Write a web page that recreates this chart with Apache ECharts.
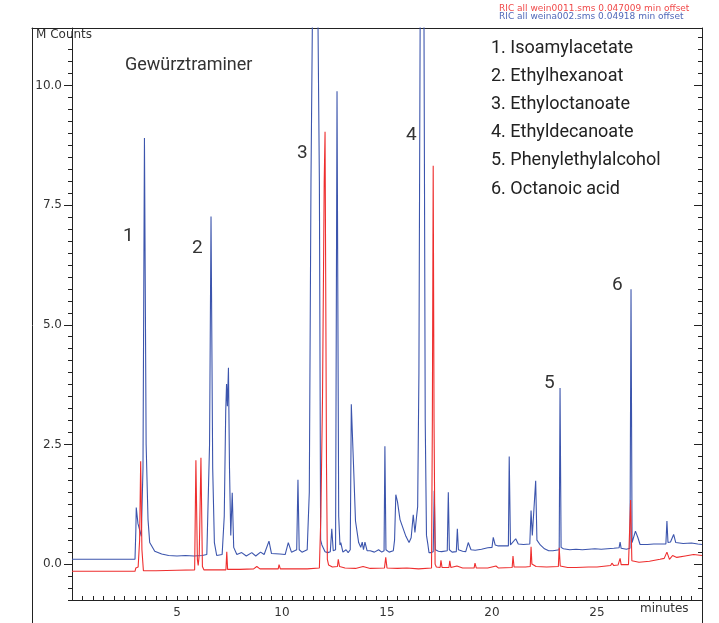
<!DOCTYPE html>
<html>
<head>
<meta charset="utf-8">
<script src="https://cdn.jsdelivr.net/npm/echarts@6/dist/echarts.min.js"></script>
<style>
  html, body { margin: 0; padding: 0; background: #fff; }
  #chart { width: 719px; height: 623px; }
</style>
</head>
<body>
<div id="chart"></div>
<script>
// retention time (minutes), intensity (M Counts)
// blue trace: weina002
var weina002 = [
  [0, 0.10], [3.00, 0.10], [3.04, 0.7], [3.06, 1.18], [3.14, 0.85], [3.30, 0.58], [3.38, 2.0], [3.45, 8.9],
  [3.53, 2.5], [3.62, 0.93], [3.70, 0.45], [3.94, 0.27], [4.27, 0.21], [4.6, 0.18], [5.0, 0.17], [5.4, 0.18],
  [5.8, 0.17], [6.2, 0.18], [6.42, 0.2], [6.55, 2.5], [6.62, 7.26], [6.70, 2.0], [6.78, 0.45], [6.89, 0.18],
  [7.15, 0.2], [7.25, 1.0], [7.32, 3.2], [7.36, 3.76], [7.40, 3.3], [7.45, 4.1], [7.50, 2.0], [7.56, 0.6],
  [7.63, 1.49], [7.70, 0.35], [7.85, 0.2], [8.08, 0.24], [8.3, 0.17], [8.56, 0.24], [8.75, 0.17], [8.98, 0.25],
  [9.15, 0.2], [9.38, 0.48], [9.5, 0.22], [9.9, 0.21], [10.15, 0.2], [10.3, 0.45], [10.45, 0.25], [10.7, 0.3],
  [10.76, 1.76], [10.82, 0.3], [10.95, 0.25], [11.2, 0.3], [11.3, 1.5], [11.38, 8], [11.50, 14], [11.66, 14],
  [11.78, 8], [11.84, 0.5], [11.9, 0.4], [12.05, 0.26], [12.18, 0.24], [12.3, 0.26], [12.37, 0.74], [12.44, 0.28],
  [12.55, 0.3], [12.62, 9.88], [12.70, 1.0], [12.76, 0.4], [12.8, 0.45], [12.9, 0.25], [13.05, 0.3], [13.15, 0.24],
  [13.25, 0.3], [13.30, 3.34], [13.36, 3.3], [13.42, 1.9], [13.50, 0.9], [13.65, 0.45], [13.75, 0.35], [13.82, 0.46],
  [13.88, 0.3], [13.95, 0.46], [14.05, 0.28], [14.2, 0.28], [14.4, 0.25], [14.6, 0.3], [14.75, 0.25], [14.86, 0.28],
  [14.90, 2.46], [14.95, 0.3], [15.1, 0.25], [15.3, 0.28], [15.36, 0.5], [15.42, 1.45], [15.5, 1.3], [15.62, 0.93],
  [15.9, 0.58], [16.05, 0.45], [16.15, 0.55], [16.25, 1.03], [16.33, 0.66], [16.41, 1.0], [16.46, 1.2], [16.52, 4.0],
  [16.58, 11.5], [16.66, 15], [16.76, 11.5], [16.82, 3], [16.88, 0.6], [16.95, 0.4], [17.0, 0.24], [17.1, 0.24],
  [17.2, 0.26], [17.25, 1.53], [17.30, 0.3], [17.45, 0.27], [17.6, 0.26], [17.87, 0.28], [17.92, 1.5], [17.97, 0.3],
  [18.1, 0.25], [18.3, 0.26], [18.35, 0.74], [18.4, 0.3], [18.6, 0.27], [18.75, 0.26], [18.87, 0.45], [19.0, 0.3],
  [19.2, 0.29], [19.5, 0.31], [19.8, 0.34], [20.0, 0.35], [20.06, 0.56], [20.15, 0.4], [20.3, 0.38], [20.6, 0.38],
  [20.78, 0.38], [20.82, 2.25], [20.88, 0.4], [20.95, 0.38], [21.13, 0.53], [21.25, 0.42], [21.5, 0.41], [21.8, 0.42],
  [21.86, 1.12], [21.92, 0.6], [21.98, 0.58], [22.08, 1.74], [22.14, 0.5], [22.3, 0.4], [22.5, 0.32], [22.7, 0.28],
  [22.9, 0.28], [23.2, 0.3], [23.24, 3.68], [23.29, 0.35], [23.4, 0.32], [23.7, 0.3], [24.0, 0.31], [24.3, 0.3],
  [24.6, 0.31], [24.9, 0.32], [25.2, 0.31], [25.5, 0.32], [25.8, 0.33], [26.05, 0.34], [26.1, 0.46], [26.15, 0.33],
  [26.4, 0.31], [26.57, 0.33], [26.62, 5.74], [26.67, 0.45], [26.72, 0.45], [26.83, 0.69], [26.95, 0.55], [27.05, 0.41],
  [27.4, 0.41], [27.7, 0.42], [28.28, 0.42], [28.33, 0.9], [28.38, 0.45], [28.5, 0.46], [28.65, 0.62], [28.75, 0.45],
  [29.1, 0.43], [29.5, 0.44], [29.8, 0.42], [30, 0.41]
];

// red trace: wein0011
var wein0011 = [
  [0, -0.15], [3.00, -0.15], [3.04, -0.08], [3.15, -0.06], [3.22, 0.5], [3.27, 2.15], [3.33, 0.3], [3.40, -0.14],
  [4.0, -0.14], [5.0, -0.13], [5.84, -0.12], [5.90, 2.17], [5.97, 0.1], [6.01, -0.03], [6.06, 0.2], [6.14, 2.22],
  [6.21, -0.05], [6.28, -0.12], [7.0, -0.12], [7.33, -0.12], [7.37, 0.26], [7.41, -0.11], [8.0, -0.11], [8.65, -0.1],
  [8.8, -0.05], [8.95, -0.1], [9.5, -0.1], [9.82, -0.1], [9.86, -0.01], [9.92, -0.1], [10.5, -0.1], [11.2, -0.1],
  [11.78, -0.08], [11.85, 1.0], [11.93, 3.5], [12.01, 8.0], [12.05, 9.03], [12.08, 6.0], [12.12, 2.0], [12.16, 0.1],
  [12.22, -0.02], [12.4, -0.06], [12.64, -0.05], [12.68, 0.1], [12.74, -0.05], [13.0, -0.08], [13.5, -0.09], [13.86, -0.05],
  [14.2, -0.09], [14.88, -0.08], [14.94, 0.14], [15.0, -0.08], [15.5, -0.09], [15.95, -0.08], [16.5, -0.1], [17.12, -0.08],
  [17.16, 3.0], [17.20, 8.32], [17.24, 3.0], [17.29, 0.0], [17.35, -0.06], [17.53, -0.07], [17.57, 0.08], [17.62, -0.07],
  [17.95, -0.07], [17.99, 0.07], [18.04, -0.07], [18.33, -0.04], [18.6, -0.08], [19.15, -0.08], [19.19, 0.02], [19.25, -0.08],
  [19.8, -0.08], [20.19, -0.04], [20.3, -0.08], [20.96, -0.07], [21.0, 0.17], [21.05, -0.06], [21.6, -0.06], [21.82, -0.05],
  [21.86, 0.36], [21.9, 0.0], [21.95, -0.03], [22.1, -0.05], [22.6, -0.06], [23.16, -0.05], [23.2, 0.34], [23.25, -0.04],
  [23.6, -0.07], [24.0, -0.07], [24.6, -0.06], [25.0, -0.06], [25.65, -0.03], [25.71, 0.02], [25.8, -0.03], [26.0, -0.02],
  [26.1, 0.12], [26.15, -0.01], [26.5, -0.01], [26.56, 0.0], [26.6, 1.34], [26.66, 0.07], [27.0, 0.04], [27.5, 0.06],
  [28.0, 0.1], [28.2, 0.12], [28.33, 0.25], [28.45, 0.1], [28.6, 0.18], [28.8, 0.14], [29.2, 0.17], [29.6, 0.2], [30, 0.18]
];

// labelled ticks
var xLabelStep = 5;                        // 5, 10, 15, 20, 25
var yLabelValues = [0, 2.5, 5, 7.5, 10];   // 0.0 ... 10.0
var compounds = [
  "1. Isoamylacetate",
  "2. Ethylhexanoat",
  "3. Ethyloctanoate",
  "4. Ethyldecanoate",
  "5. Phenylethylalcohol",
  "6. Octanoic acid"
];
var peakNumbers = ["1", "2", "3", "4", "5", "6"];

var X_MIN = 0, X_MAX = 30, Y_MIN = -0.75, Y_MAX = 11.2;

var chart = echarts.init(document.getElementById("chart"));

var axisColor = "#222";
var blue = "#3c55ad";
var red = "#ee2e2e";
var txt = "#333";

function onStep(v, step) {
  var r = v / step;
  return Math.abs(r - Math.round(r)) < 1e-6;
}

// text blocks as title components (pixels)
function label(text, left, top, font, size, color) {
  return {
    text: text, left: left, top: top, padding: 0,
    textStyle: { fontFamily: font, fontSize: size, fontWeight: "normal", color: color }
  };
}
var peakPos = [[128, 238], [197, 250], [302, 155], [411, 137], [549, 385], [617, 287]];
var titles = [
  label("M Counts", 36, 29, "DejaVu Sans", 12, txt),
  label("minutes", 640, 603, "DejaVu Sans", 12, txt),
  label("RIC all wein0011.sms 0.047009 min offset", 499, 4, "DejaVu Sans", 9, "#f04a4a"),
  label("RIC all weina002.sms 0.04918 min offset", 499, 12, "DejaVu Sans", 9, "#5068b8"),
  label("Gewürztraminer", 125, 56, "Roboto", 18, txt)
];
compounds.forEach(function (c, i) {
  titles.push(label(c, 491, 39 + i * 28.2, "Roboto", 18, "#222"));
});
peakNumbers.forEach(function (p, i) {
  titles.push(label(p, peakPos[i][0] - 5, peakPos[i][1] - 11, "Roboto", 19, txt));
});

// axes of the outer frame (top edge, left and right edges)
var frameAxis = {
  type: "value", min: 0, max: 1, gridIndex: 1,
  splitLine: { show: false },
  axisTick: { show: false },
  axisLabel: { show: false },
  axisLine: { show: true, onZero: false, lineStyle: { color: axisColor, width: 1 } }
};

var option = {
  animation: false,
  backgroundColor: "#fff",
  title: titles,
  grid: [
    { left: 72, right: 17, top: 28, bottom: 23 },
    { left: 32, right: 17, top: 28, bottom: 0 }
  ],
  xAxis: [
    {
      type: "value",
      min: X_MIN,
      max: X_MAX,
      interval: 0.5,
      splitLine: { show: false },
      axisLine: { show: true, onZero: false, lineStyle: { color: axisColor, width: 1 } },
      axisTick: { show: true, inside: true, length: 4, lineStyle: { color: axisColor, width: 1 } },
      axisLabel: {
        formatter: function (v) { return (v > X_MIN && v < X_MAX && onStep(v, xLabelStep)) ? String(v) : ""; },
        color: txt,
        fontFamily: "DejaVu Sans",
        fontSize: 12,
        margin: 7
      }
    },
    Object.assign({}, frameAxis, { position: "top" })
  ],
  yAxis: [
    {
      // minor ticks every 0.25 and the labels
      type: "value",
      position: "left",
      min: Y_MIN,
      max: Y_MAX,
      interval: 0.25,
      splitLine: { show: false },
      axisLine: { show: true, onZero: false, lineStyle: { color: axisColor, width: 1 } },
      axisTick: { show: true, length: 4, lineStyle: { color: axisColor, width: 1 } },
      axisLabel: {
        formatter: function (v) { return onStep(v, 2.5) ? v.toFixed(1) : ""; },
        color: txt,
        fontFamily: "DejaVu Sans",
        fontSize: 12,
        margin: 10
      }
    },
    {
      // longer ticks at the labelled values
      type: "value",
      position: "left",
      min: Y_MIN,
      max: Y_MAX,
      splitLine: { show: false },
      axisLine: { show: false, onZero: false },
      axisTick: { show: true, customValues: yLabelValues, length: 8, lineStyle: { color: axisColor, width: 1 } },
      axisLabel: { show: false }
    },
    {
      // right edge: minor ticks inside
      type: "value",
      position: "right",
      min: Y_MIN,
      max: Y_MAX,
      interval: 0.25,
      splitLine: { show: false },
      axisLine: { show: false, onZero: false },
      axisTick: { show: true, inside: true, length: 4, lineStyle: { color: axisColor, width: 1 } },
      axisLabel: { show: false }
    },
    {
      // right edge: longer ticks inside
      type: "value",
      position: "right",
      min: Y_MIN,
      max: Y_MAX,
      splitLine: { show: false },
      axisLine: { show: false, onZero: false },
      axisTick: { show: true, inside: true, customValues: yLabelValues, length: 8, lineStyle: { color: axisColor, width: 1 } },
      axisLabel: { show: false }
    },
    Object.assign({}, frameAxis, { position: "left" }),
    Object.assign({}, frameAxis, { position: "right" })
  ],
  series: [
    {
      name: "weina002",
      type: "line",
      data: weina002,
      showSymbol: false,
      clip: true,
      lineStyle: { color: blue, width: 1.1 },
      z: 2
    },
    {
      name: "wein0011",
      type: "line",
      data: wein0011,
      showSymbol: false,
      clip: true,
      lineStyle: { color: red, width: 1.1 },
      z: 3
    }
  ]
};

chart.setOption(option);
</script>
</body>
</html>
